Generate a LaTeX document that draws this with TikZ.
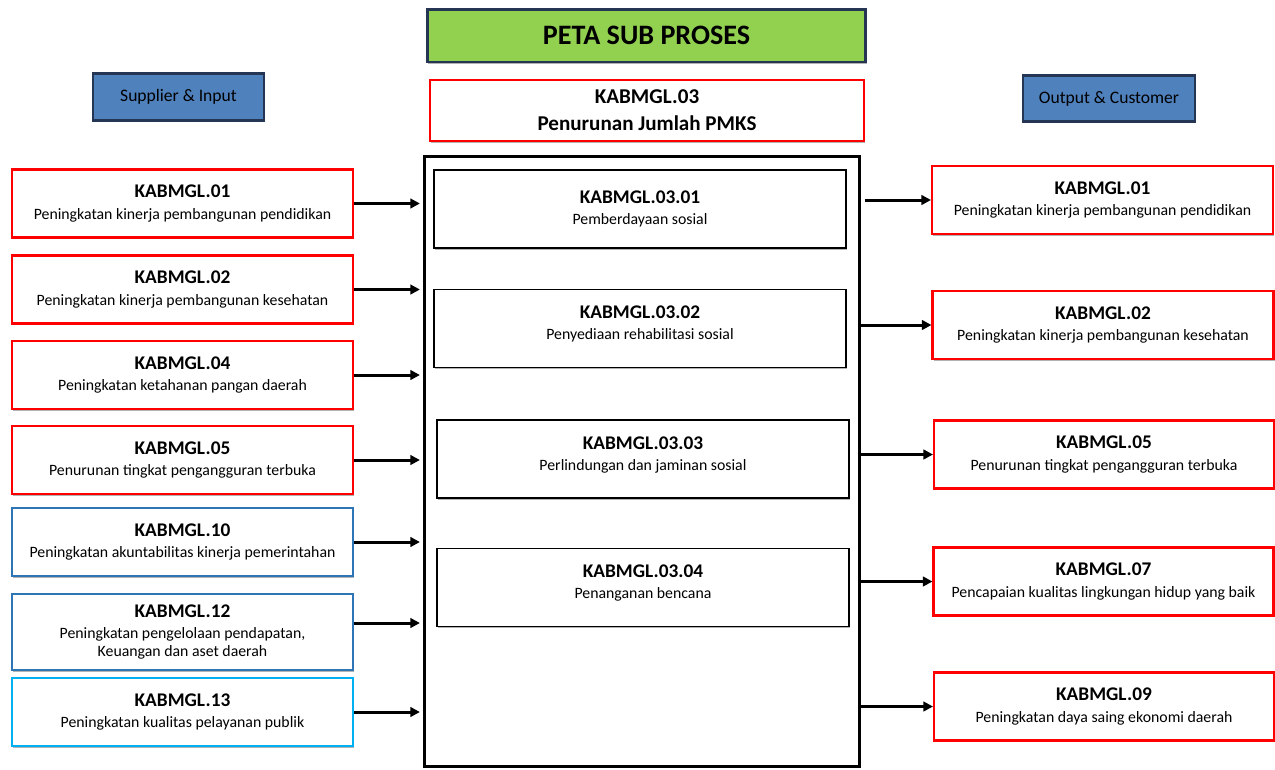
\documentclass[tikz,border=0pt]{standalone}
\usepackage{fontspec}
\setmainfont{Carlito}
\usepackage{tikz}
\usetikzlibrary{arrows.meta,shadows}
\definecolor{merah}{RGB}{255,0,0}
\definecolor{biru}{RGB}{46,117,182}
\definecolor{birumuda}{RGB}{0,176,240}
\definecolor{hijau}{RGB}{146,208,80}
\definecolor{birutua}{RGB}{36,54,84}
\definecolor{biruisi}{RGB}{79,129,189}
\newcommand{\isi}[2]{{\fontsize{11}{13}\selectfont\bfseries #1}\\[1.5pt]#2}

\begin{document}
\begin{tikzpicture}[x=0.02cm,y=-0.02cm,
	bayang/.style={drop shadow={shadow xshift=0.7pt,shadow yshift=-0.9pt,fill=black!30,opacity=1}},
	kotak/.style={draw=merah,line width=1.2pt,fill=white,bayang,minimum width=6.82cm,minimum height=1.36cm,align=center,font=\fontsize{9}{10.5}\selectfont,inner sep=2pt},
	subproses/.style={draw=black,line width=0.9pt,fill=white,bayang,minimum width=8.24cm,minimum height=1.56cm,align=center,font=\fontsize{9}{10.5}\selectfont},
	atas/.style={text depth=6.5pt},
	label/.style={draw=birutua,line width=1.6pt,fill=biruisi,bayang,minimum height=0.93cm,font=\fontsize{10}{12}\selectfont},
	panah/.style={line width=1.7pt,-{Triangle[length=5.5pt,width=5.5pt]}}]
	\useasboundingbox (0,0) rectangle (1275,769);
	
	\node[draw=birutua,line width=1.7pt,fill=hijau,bayang,minimum width=8.78cm,minimum height=1.06cm,font=\fontsize{16}{19}\selectfont\bfseries] (judul) at (646.5,35.5) {PETA SUB PROSES};
	\node[kotak,minimum width=8.68cm,minimum height=1.22cm,font=\fontsize{12}{15.3}\selectfont\bfseries,text depth=0pt] (induk) at (647,110.5) {KABMGL.03\\Penurunan Jumlah PMKS};
	\node[label,minimum width=3.42cm] (supplier) at (178.5,97) {Supplier \& Input};
	\node[label,minimum width=3.44cm] (customer) at (1109,98.5) {Output \& Customer};
	
	\node[draw=black,line width=1.7pt,minimum width=8.72cm,minimum height=12.22cm] (proses) at (642,461.5) {};
	\node[subproses] (s1) at (640,209) {\isi{KABMGL.03.01}{Pemberdayaan sosial}};
	\node[subproses,atas] (s2) at (640,328.5) {\isi{KABMGL.03.02}{Penyediaan rehabilitasi sosial}};
	\node[subproses,atas] (s3) at (643,459) {\isi{KABMGL.03.03}{Perlindungan dan jaminan sosial}};
	\node[subproses,atas] (s4) at (643,587.5) {\isi{KABMGL.03.04}{Penanganan bencana}};
	
	\node[kotak] (l1) at (182.5,203.5) {\isi{KABMGL.01}{Peningkatan kinerja pembangunan pendidikan}};
	\node[kotak] (l2) at (182.5,289.5) {\isi{KABMGL.02}{Peningkatan kinerja pembangunan kesehatan}};
	\node[kotak] (l3) at (182.5,375) {\isi{KABMGL.04}{Peningkatan ketahanan pangan daerah}};
	\node[kotak] (l4) at (182.5,460) {\isi{KABMGL.05}{Penurunan tingkat pengangguran terbuka}};
	\node[kotak,draw=biru] (l5) at (182.5,542) {\isi{KABMGL.10}{Peningkatan akuntabilitas kinerja pemerintahan}};
	\node[kotak,draw=biru,minimum height=1.52cm] (l6) at (182.5,632) {\isi{KABMGL.12}{Peningkatan pengelolaan pendapatan,\\Keuangan dan aset daerah}};
	\node[kotak,draw=birumuda] (l7) at (182.5,712) {\isi{KABMGL.13}{Peningkatan kualitas pelayanan publik}};
	
	\node[kotak] (r1) at (1102.5,200) {\isi{KABMGL.01}{Peningkatan kinerja pembangunan pendidikan}};
	\node[kotak] (r2) at (1103,325) {\isi{KABMGL.02}{Peningkatan kinerja pembangunan kesehatan}};
	\node[kotak,minimum width=6.8cm] (r3) at (1104,454.5) {\isi{KABMGL.05}{Penurunan tingkat pengangguran terbuka}};
	\node[kotak,minimum width=6.8cm] (r4) at (1103.5,581.5) {\isi{KABMGL.07}{Pencapaian kualitas lingkungan hidup yang baik}};
	\node[kotak,minimum width=6.8cm] (r5) at (1104,706.5) {\isi{KABMGL.09}{Peningkatan daya saing ekonomi daerah}};
	
	\foreach \n in {l1,l2,l3,l4,l5,l7}
		\draw[panah,shorten >=1.5pt] (\n.east) -- (\n.east -| proses.west);
	\draw[panah,shorten >=1.5pt] ([yshift=0.18cm]l6.east) -- ([yshift=0.18cm]l6.east -| proses.west);
	\draw[panah,shorten <=2pt] (r1.west -| proses.east) -- (r1.west);
	\foreach \n in {r2,r3,r4,r5}
		\draw[panah] (\n.west -| proses.east) -- (\n.west);
\end{tikzpicture}
\end{document}
